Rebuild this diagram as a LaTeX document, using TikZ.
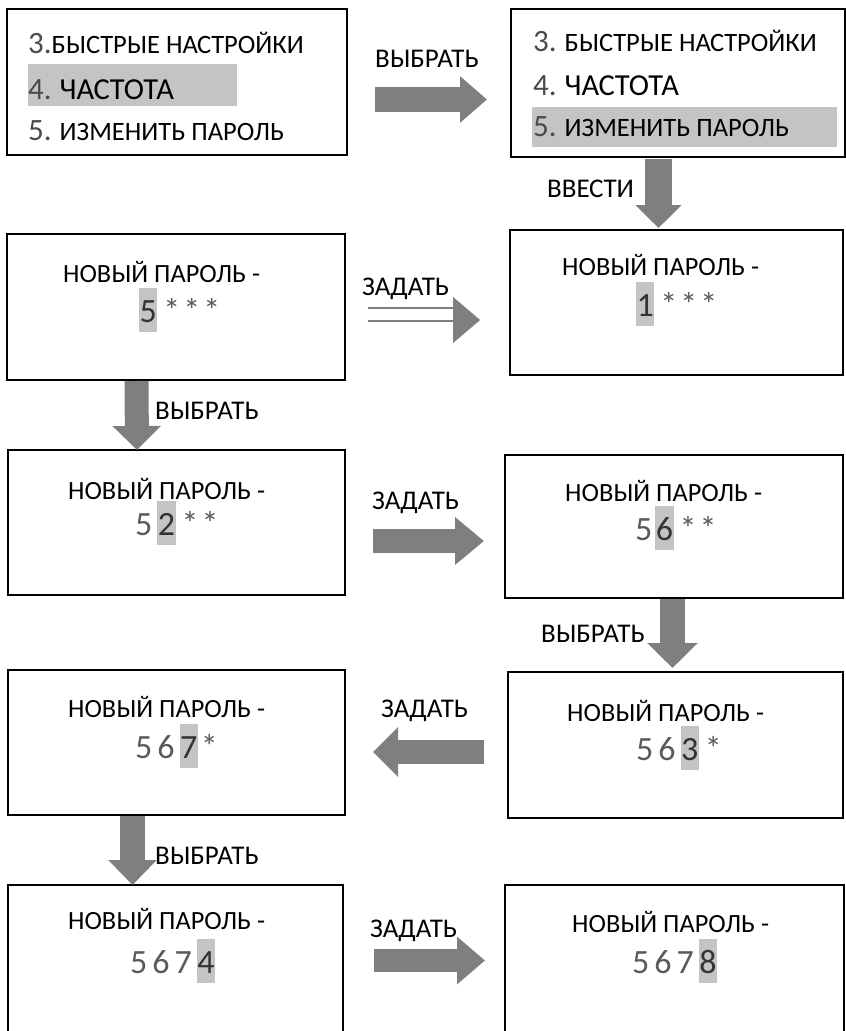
\documentclass[tikz,border=0pt]{standalone}
\usepackage{fontspec}
\setmainfont{Carlito}
\usetikzlibrary{arrows.meta}
\definecolor{arrgray}{HTML}{7F7F7F}
\definecolor{hlgray}{HTML}{C4C4C4}
\definecolor{numgray}{HTML}{4A4A4A}
\definecolor{dgray}{HTML}{5A5A5A}
\definecolor{dgdark}{HTML}{333333}
\newcommand\mnum[1]{{\fontsize{31}{31}\selectfont\color{numgray}#1}}
\newcommand\bigword[1]{{\fontsize{30.5}{31}\selectfont #1}}
\newcommand\dhl[1]{{\setlength\fboxsep{0pt}\colorbox{hlgray}{\kern0.5pt\rule[-10pt]{0pt}{44pt}\color{dgdark}#1\kern0.5pt}}}
\newcommand\sk{{\fontsize{34}{34}\selectfont *}}
\newcommand\gp{\kern5pt}
\newcommand\ga{\kern3pt}
\newcommand\gb{\kern6pt}
\begin{document}
\begin{tikzpicture}[x=1pt,y=-1pt,
  box/.style={draw=black,line width=1.2pt,anchor=north west,inner sep=0pt,outer sep=0pt},
  ttl/.style={anchor=base west,inner sep=0pt,font=\fontsize{26.3}{28}\selectfont},
  menu/.style={anchor=base west,inner sep=0pt,font=\fontsize{26.5}{28}\selectfont},
  dig/.style={anchor=base west,inner sep=0pt,font=\fontsize{34}{34}\selectfont,text=dgray},
  lbl/.style={anchor=base west,inner sep=0pt,font=\fontsize{27}{28}\selectfont},
  blk/.style={draw=arrgray,line cap=butt},
]
\useasboundingbox (0,0) rectangle (846,1031);
\clip (0,0) rectangle (846,1031);

% boxes
\node[box,minimum width=340pt,minimum height=146pt] (A) at (7,9) {};
\node[box,minimum width=334pt,minimum height=148pt] (B) at (511,9) {};
\node[box,minimum width=333pt,minimum height=145pt] (C) at (510,230) {};
\node[box,minimum width=338pt,minimum height=146pt] (D) at (7,234) {};
\node[box,minimum width=337pt,minimum height=145pt] (E) at (8,450) {};
\node[box,minimum width=338pt,minimum height=143pt] (F) at (505,455) {};
\node[box,minimum width=337pt,minimum height=145pt] (G) at (8,670) {};
\node[box,minimum width=335pt,minimum height=146pt] (H) at (508,672) {};
\node[box,minimum width=335pt,minimum height=160pt] (I) at (8,885) {};
\node[box,minimum width=339pt,minimum height=160pt] (J) at (505,885) {};

% menu highlights
\fill[hlgray] (28,64) rectangle (237,106);
\fill[hlgray] (532,107) rectangle (837,147);

% menu texts
\node[menu] (A3) at (28,53) {\mnum{3.}БЫСТРЫЕ НАСТРОЙКИ};
\node[menu] (A4) at (28,99) {\mnum{4.} \bigword{ЧАСТОТА}};
\node[menu] (A5) at (28,140) {\mnum{5.} ИЗМЕНИТЬ ПАРОЛЬ};
\node[menu] (B3) at (533,51) {\mnum{3.} БЫСТРЫЕ НАСТРОЙКИ};
\node[menu] (B4) at (533,95) {\mnum{4.} \bigword{ЧАСТОТА}};
\node[menu] (B5) at (533,136) {\mnum{5.} ИЗМЕНИТЬ ПАРОЛЬ};

% titles
\node[ttl] (Ct) at (562,275) {НОВЫЙ ПАРОЛЬ -};
\node[ttl] (Dt) at (63,282) {НОВЫЙ ПАРОЛЬ -};
\node[ttl] (Et) at (68,499) {НОВЫЙ ПАРОЛЬ -};
\node[ttl] (Ft) at (565,501) {НОВЫЙ ПАРОЛЬ -};
\node[ttl] (Gt) at (68,717) {НОВЫЙ ПАРОЛЬ -};
\node[ttl] (Ht) at (567,721) {НОВЫЙ ПАРОЛЬ -};
\node[ttl] (It) at (68,929) {НОВЫЙ ПАРОЛЬ -};
\node[ttl] (Jt) at (572,932) {НОВЫЙ ПАРОЛЬ -};

% digits
\node[dig] (Cd) at (636,316) {\dhl{1}\gb\sk\ga\sk\ga\sk};
\node[dig] (Dd) at (139,322) {\dhl{5}\gb\sk\ga\sk\ga\sk};
\node[dig] (Ed) at (135,535) {5\gp\dhl{2}\gb\sk\ga\sk};
\node[dig] (Fd) at (635,540) {5\kern3pt\dhl{6}\gb\sk\ga\sk};
\node[dig] (Gd) at (135,758) {5\gp 6\gp\dhl{7}\ga\sk};
\node[dig] (Hd) at (636,760) {5\gp 6\gp\dhl{3}\gb\sk};
\node[dig] (Id) at (130,973) {5\gp 6\gp 7\gp\dhl{4}};
\node[dig] (Jd) at (632,973) {5\gp 6\gp 7\gp\dhl{8}};

% labels
\node[lbl] (L1) at (375,67) {ВЫБРАТЬ};
\node[lbl] (L2) at (547,197) {ВВЕСТИ};
\node[lbl] (L3) at (362,295) {ЗАДАТЬ};
\node[lbl] (L4) at (155,419) {ВЫБРАТЬ};
\node[lbl] (L5) at (372,509) {ЗАДАТЬ};
\node[lbl] (L6) at (541,642) {ВЫБРАТЬ};
\node[lbl] (L7) at (381,717) {ЗАДАТЬ};
\node[lbl] (L8) at (155,864) {ВЫБРАТЬ};
\node[lbl] (L9) at (370,937) {ЗАДАТЬ};

% arrow end points
\coordinate (a1s) at (375,99.5);   \coordinate (a1e) at (487,99.5);
\coordinate (a2s) at (658.5,159);  \coordinate (a2e) at (658.5,228);
\coordinate (a3s) at (368,314.5);  \coordinate (a3m) at (453,314.5);
\coordinate (a3b) at (453,320);    \coordinate (a3e) at (480,320);
\coordinate (a4s) at (136.5,381);  \coordinate (a4e) at (137,450);
\coordinate (a5s) at (373,541);    \coordinate (a5e) at (484,541);
\coordinate (a6s) at (672.5,599);  \coordinate (a6e) at (672.5,668);
\coordinate (a7s) at (484,752);    \coordinate (a7e) at (373,752);
\coordinate (a8s) at (132.5,816);  \coordinate (a8e) at (132.5,885);
\coordinate (a9s) at (374,960.5);  \coordinate (a9e) at (485,960.5);

% arrows
\draw[blk,line width=25pt,-{Triangle[width=45pt,length=27pt]}] (a1s) -- (a1e);
\draw[blk,line width=27pt,-{Triangle[width=45pt,length=23pt]}] (a2s) -- (a2e);
\draw[arrgray,line width=2.4pt,double distance=10.6pt] (a3s) -- (a3m);
\draw[blk,line width=0.1pt,-{Triangle[width=46pt,length=27pt]}] (a3b) -- (a3e);
\draw[blk,line width=24pt,-{Triangle[width=47pt,length=24pt]}] (a4s) -- (a4e);
\draw[blk,line width=24pt,-{Triangle[width=46pt,length=29pt]}] (a5s) -- (a5e);
\draw[blk,line width=25pt,-{Triangle[width=49pt,length=25pt]}] (a6s) -- (a6e);
\draw[blk,line width=24pt,-{Triangle[width=48pt,length=25pt]}] (a7s) -- (a7e);
\draw[blk,line width=25pt,-{Triangle[width=47pt,length=25pt]}] (a8s) -- (a8e);
\draw[blk,line width=23pt,-{Triangle[width=46pt,length=28pt]}] (a9s) -- (a9e);
\end{tikzpicture}
\end{document}
